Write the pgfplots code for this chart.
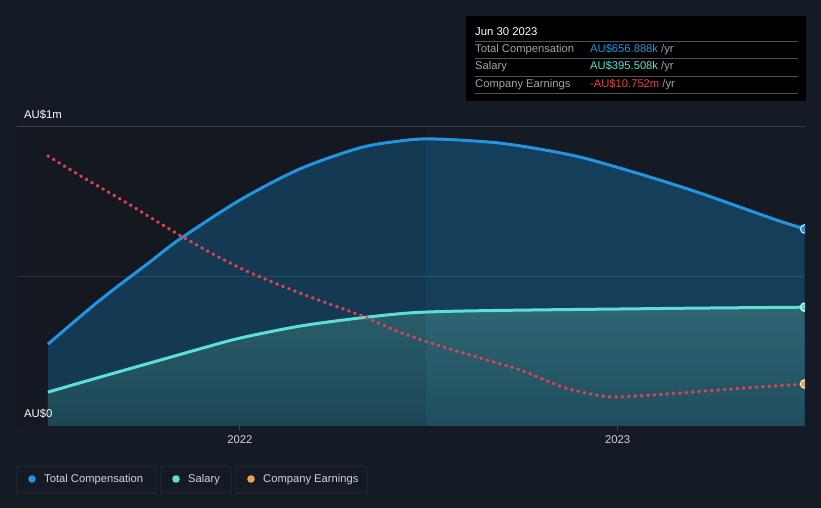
\documentclass[border=0pt]{standalone}
\usepackage{fontspec}
\setmainfont{Liberation Sans}
\usepackage{pgfplots}
\pgfplotsset{compat=1.18}

\definecolor{bg}{HTML}{151B24}
\definecolor{comp}{HTML}{2394DF}
\definecolor{sal}{HTML}{5CE0D0}
\definecolor{earn}{HTML}{E3434A}
\definecolor{earndot}{HTML}{E8A64B}
\definecolor{compfill}{HTML}{16405F}
\definecolor{salfilltop}{HTML}{2E6674}
\definecolor{salfillbot}{HTML}{1F4D5E}
\definecolor{gridc}{HTML}{3A414B}
\definecolor{txt}{HTML}{D2D4D7}
\definecolor{lbl}{HTML}{A0A4AA}

\begin{document}
\begin{tikzpicture}[x=1pt,y=1pt]
\fill[bg] (0,0) rectangle (821,508);

\begin{axis}[
  at={(17pt,82pt)}, anchor=south west,
  scale only axis, width=788pt, height=300pt,
  xmin=2021.410, xmax=2023.496,
  ymin=0, ymax=1000,
  axis line style={draw=none},
  ytick=\empty,
  xtick={2022,2023},
  xticklabels={2022,2023},
  xtick pos=bottom,
  xtick align=outside,
  major tick length=5pt,
  tick style={draw=gridc, line width=0.8pt},
  xticklabel style={font=\fontsize{11.3}{13}\selectfont, text=txt, yshift=-1pt},
  /pgf/number format/assume math mode=true,
  clip marker paths=false,
]
% total compensation fill
\addplot[draw=none, fill=compfill, fill opacity=0.95] coordinates {
(2021.492,273) (2021.630,420) (2021.762,547) (2021.841,623) (2022.000,753)
(2022.159,857) (2022.317,927) (2022.423,950) (2022.492,957) (2022.582,953)
(2022.688,943) (2022.794,923) (2022.899,897) (2023.005,860) (2023.111,820)
(2023.217,777) (2023.323,730) (2023.429,683) (2023.495,657)} \closedcycle;
% salary fill
\addplot[draw=none, top color=salfilltop, bottom color=salfillbot] coordinates {
(2021.492,113) (2021.630,163) (2021.762,210) (2021.894,257) (2022.000,293)
(2022.159,333) (2022.317,360) (2022.450,377) (2022.582,383) (2022.794,387)
(2023.005,390) (2023.217,393) (2023.495,396)} \closedcycle;
% darker left part
\fill[black, opacity=0.08] (axis cs:2021.410,0) rectangle (axis cs:2022.492,1000);
% grid lines
\draw[gridc, line width=0.8pt] (axis cs:2021.410,1000) -- (axis cs:2023.496,1000);
\draw[white, opacity=0.10, line width=0.8pt] (axis cs:2021.410,500) -- (axis cs:2023.496,500);
\draw[gridc!120, line width=0.8pt] (axis cs:2021.410,0) -- (axis cs:2023.496,0);
% total compensation line
\addplot[comp, line width=3pt, smooth, tension=0.5, mark=none] coordinates {
(2021.492,273) (2021.630,420) (2021.762,547) (2021.841,623) (2022.000,753)
(2022.159,857) (2022.317,927) (2022.423,950) (2022.492,957) (2022.582,953)
(2022.688,943) (2022.794,923) (2022.899,897) (2023.005,860) (2023.111,820)
(2023.217,777) (2023.323,730) (2023.429,683) (2023.495,657)};
% salary line
\addplot[sal, line width=3pt, smooth, tension=0.5, mark=none] coordinates {
(2021.492,113) (2021.630,163) (2021.762,210) (2021.894,257) (2022.000,293)
(2022.159,333) (2022.317,360) (2022.450,377) (2022.582,383) (2022.794,387)
(2023.005,390) (2023.217,393) (2023.495,396)};
% company earnings (scaled)
\addplot[earn, line width=3.4pt, line cap=round, dash pattern=on 0.6pt off 5.8pt, smooth, tension=0.5, mark=none] coordinates {
(2021.492,900) (2021.587,827) (2021.683,757) (2021.849,630) (2022.000,527)
(2022.159,443) (2022.317,370) (2022.423,313) (2022.529,267) (2022.635,227)
(2022.741,187) (2022.854,130) (2022.944,103) (2023.005,97) (2023.164,110)
(2023.341,127) (2023.495,140)};
% end markers
\addplot[only marks, mark=*, mark size=4.3pt, mark options={fill=comp, draw=white!80!comp, line width=1pt}] coordinates {(2023.495,657)};
\addplot[only marks, mark=*, mark size=4.3pt, mark options={fill=sal, draw=white!80!sal, line width=1pt}] coordinates {(2023.495,396)};
\addplot[only marks, mark=*, mark size=4.3pt, mark options={fill=earndot, draw=white!80!earndot, line width=1pt}] coordinates {(2023.495,140)};
\end{axis}
% cover right halves of the end markers
\fill[bg] (805,70) rectangle (821,400);

% y labels
\node[anchor=west, text=white, font=\fontsize{11.3}{13}\selectfont, inner sep=0pt] at (24,393) {AU\$1m};
\node[anchor=west, text=white, font=\fontsize{11.3}{13}\selectfont, inner sep=0pt] at (24,94) {AU\$0};

% tooltip
\fill[black] (466,492) rectangle (806,407);
\node[anchor=west, text=white, font=\fontsize{11.3}{13}\selectfont, inner sep=0pt] at (475,476.5) {Jun 30 2023};
\foreach \yy in {467,450,432,415} {\draw[gridc!90, line width=0.8pt] (475,\yy) -- (798,\yy);}
\node[anchor=west, text=lbl, font=\fontsize{11.2}{12}\selectfont, inner sep=0pt] at (475,458) {Total Compensation};
\node[anchor=west, text=lbl, font=\fontsize{11.2}{12}\selectfont, inner sep=0pt] at (475,441) {Salary};
\node[anchor=west, text=lbl, font=\fontsize{11.2}{12}\selectfont, inner sep=0pt] at (475,423) {Company Earnings};
\node[anchor=west, font=\fontsize{11.2}{12}\selectfont, inner sep=0pt] at (590,458) {\textcolor{comp}{AU\$656.888k} \textcolor{lbl}{/yr}};
\node[anchor=west, font=\fontsize{11.2}{12}\selectfont, inner sep=0pt] at (590,441) {\textcolor{sal}{AU\$395.508k} \textcolor{lbl}{/yr}};
\node[anchor=west, font=\fontsize{11.2}{12}\selectfont, inner sep=0pt] at (590,423) {\textcolor{earn}{-AU\$10.752m} \textcolor{lbl}{/yr}};

% legend
\draw[gridc!110, line width=0.8pt, rounded corners=1.5pt] (17,42) rectangle (156,15);
\draw[gridc!110, line width=0.8pt, rounded corners=1.5pt] (161,42) rectangle (231,15);
\draw[gridc!110, line width=0.8pt, rounded corners=1.5pt] (236,42) rectangle (367,15);
\fill[comp] (32,29) circle (3.8);
\fill[sal] (176,29) circle (3.8);
\fill[earndot] (251,29) circle (3.8);
\node[anchor=west, text=txt, font=\fontsize{11.2}{12}\selectfont, inner sep=0pt] at (44,28.5) {Total Compensation};
\node[anchor=west, text=txt, font=\fontsize{11.2}{12}\selectfont, inner sep=0pt] at (188,28.5) {Salary};
\node[anchor=west, text=txt, font=\fontsize{11.2}{12}\selectfont, inner sep=0pt] at (263,28.5) {Company Earnings};
\end{tikzpicture}
\end{document}
